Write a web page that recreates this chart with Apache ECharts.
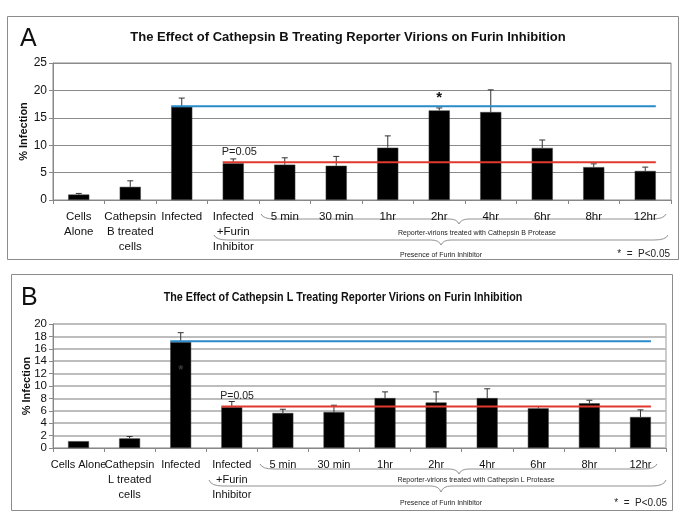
<!DOCTYPE html>
<html><head><meta charset="utf-8">
<script src="https://cdn.jsdelivr.net/npm/echarts@6/dist/echarts.min.js"></script>
<style>html,body{margin:0;padding:0;background:#fff}#c{width:685px;height:530px}</style>
</head><body><div id="c"></div>
<script>
// ---------- data ----------
const categoriesA = ['Cells\nAlone','Cathepsin\nB treated\ncells','Infected','Infected\n+Furin\nInhibitor','5 min','30 min','1hr','2hr','4hr','6hr','8hr','12hr'];
const categoriesB = ['Cells Alone','Cathepsin\nL treated\ncells','Infected','Infected\n+Furin\nInhibitor','5 min','30 min','1hr','2hr','4hr','6hr','8hr','12hr'];
const valuesA   = [1.0, 2.4, 17.0, 6.7, 6.45, 6.25, 9.55, 16.35, 16.05, 9.5, 6.0, 5.3];
const errorTopA = [1.2, 3.5, 18.6, 7.5, 7.7, 7.95, 11.7, 16.8, 20.1, 10.95, 6.6, 6.0];
const valuesB   = [1.1, 1.55, 17.1, 6.6, 5.65, 5.8, 8.05, 7.35, 8.05, 6.4, 7.2, 5.0];
const errorTopB = [1.1, 1.85, 18.6, 7.5, 6.25, 6.9, 9.05, 9.05, 9.55, 6.7, 7.7, 6.15];
const markA = ['','','','','','','','*','','','',''];
const markB = ['','','*','','','','','','','','',''];
const yTicksA = [0, 5, 10, 15, 20, 25];
const yTicksB = [0, 2, 4, 6, 8, 10, 12, 14, 16, 18, 20];
// reference lines: [first category index, last category index, value, label]
const refLinesA = [[2, 11, 17.1, ''], [3, 11, 6.9, 'P=0.05']];
const refLinesB = [[2, 11, 17.2, ''], [3, 11, 6.7, 'P=0.05']];
const titleA = 'The Effect of Cathepsin B Treating Reporter Virions on Furin Inhibition';
const titleB = 'The Effect of Cathepsin L Treating Reporter Virions on Furin Inhibition';
const braceTextA = 'Reporter-virions treated with Cathepsin B Protease';
const braceTextB = 'Reporter-virions treated with Cathepsin L Protease';
const furinText = 'Presence of Furin Inhibitor';
const sigText = '*  =  P<0.05';
const yName = '% Infection';

// ---------- styling ----------
const BAR_FRAC = 0.41;
const FONT = 'Liberation Sans, Arial, sans-serif';
const NARROW = 'Liberation Sans Narrow, Arial Narrow, Liberation Sans, sans-serif';
const RED = '#e2392f', BLUE = '#2d8ac8';

const chart = echarts.init(document.getElementById('c'), null, {renderer: 'canvas'});

function errRender(marks, markInside) {
  return function (params, api) {
    const i = api.value(0), v = api.value(1), t = api.value(2);
    const p0 = api.coord([i, v]), p1 = api.coord([i, t]);
    const ch = [];
    if (t > v) {
      ch.push({type: 'line', shape: {x1: p0[0], y1: p0[1], x2: p1[0], y2: p1[1]}, style: {stroke: '#333', lineWidth: 1}});
      ch.push({type: 'line', shape: {x1: p1[0] - 3, y1: p1[1], x2: p1[0] + 3, y2: p1[1]}, style: {stroke: '#333', lineWidth: 1}});
    }
    const m = marks[i];
    if (m) {
      if (markInside) {
        const base = api.coord([i, 0]);
        ch.push({type: 'text', style: {text: m, x: p0[0], y: p0[1] + (base[1] - p0[1]) * 0.27, align: 'center', verticalAlign: 'middle', font: 'bold 13px ' + FONT, fill: '#3a3a3a'}});
      } else {
        ch.push({type: 'text', style: {text: m, x: p1[0], y: p1[1] - 3, align: 'center', verticalAlign: 'bottom', font: 'bold 15px ' + FONT, fill: '#111'}});
      }
    }
    return {type: 'group', children: ch};
  };
}
function refRender(lines, colors, font) {
  return function (params, api) {
    const s = api.value(0), e = api.value(1), y = api.value(2);
    const bw = api.size([1, 0])[0];
    const c0 = api.coord([s, y]), c1 = api.coord([e, y]);
    const x1 = c0[0] - bw * BAR_FRAC / 2, x2 = c1[0] + bw * BAR_FRAC / 2;
    const ch = [{type: 'line', shape: {x1: x1, y1: c0[1], x2: x2, y2: c0[1]}, style: {stroke: colors[params.dataIndex], lineWidth: 2}}];
    const lbl = lines[params.dataIndex][3];
    if (lbl) ch.push({type: 'text', style: {text: lbl, x: x1 - 1, y: c0[1] - 5, align: 'left', verticalAlign: 'bottom', font: font, fill: '#222'}});
    return {type: 'group', children: ch};
  };
}
// curly brace (opening downward) drawn as bezier pieces
function brace(xl, yl, xr, yr, yline, xm, ym) {
  const st = {fill: 'none', stroke: '#777', lineWidth: 0.8};
  return {type: 'group', silent: true, children: [
    {type: 'bezierCurve', shape: {x1: xl, y1: yl, cpx1: xl + 2, cpy1: yline, x2: xl + 14, y2: yline}, style: st},
    {type: 'line', shape: {x1: xl + 14, y1: yline, x2: xm - 10, y2: yline}, style: st},
    {type: 'bezierCurve', shape: {x1: xm - 10, y1: yline, cpx1: xm - 2, cpy1: yline, x2: xm, y2: ym}, style: st},
    {type: 'bezierCurve', shape: {x1: xm, y1: ym, cpx1: xm + 2, cpy1: yline, x2: xm + 10, y2: yline}, style: st},
    {type: 'line', shape: {x1: xm + 10, y1: yline, x2: xr - 14, y2: yline}, style: st},
    {type: 'bezierCurve', shape: {x1: xr - 14, y1: yline, cpx1: xr - 2, cpy1: yline, x2: xr, y2: yr}, style: st}
  ]};
}

function xAxis(gi, cats, font, size, lh) {
  return {type: 'category', gridIndex: gi, data: cats, boundaryGap: true,
    axisLine: {lineStyle: {color: '#888'}}, axisTick: {show: true, length: 4, lineStyle: {color: '#888'}},
    axisLabel: {interval: 0, color: '#111', fontSize: size, fontFamily: font, lineHeight: lh, margin: 9},
    splitLine: {show: false}};
}
function yAxis(gi, ticks, font, size, gridColor, gridW, gap) {
  const iv = ticks[1] - ticks[0];
  return {type: 'value', gridIndex: gi, min: ticks[0], max: ticks[ticks.length - 1], interval: iv,
    name: yName, nameLocation: 'middle', nameGap: gap, nameMoveOverlap: false,
    nameTextStyle: {fontFamily: FONT, fontWeight: 'bold', fontSize: 11, color: '#111'},
    axisLine: {show: true, lineStyle: {color: '#888'}}, axisTick: {show: true, length: 4, lineStyle: {color: '#888'}},
    axisLabel: {color: '#111', fontSize: size, fontFamily: font, margin: 6},
    splitLine: {lineStyle: {color: gridColor, width: gridW}}};
}

const option = {
  animation: false,
  backgroundColor: '#fff',
  title: [
    {text: titleA, left: 343, top: 26, textAlign: 'center', textStyle: {fontFamily: FONT, fontSize: 13, fontWeight: 'bold', color: '#111'}}
  ],
  grid: [
    {left: 53, top: 63, width: 618, height: 137, show: true, borderColor: '#888', borderWidth: 1},
    {left: 53, top: 324, width: 613, height: 124, show: true, borderColor: '#999', borderWidth: 1}
  ],
  xAxis: [xAxis(0, categoriesA, FONT, 11.5, 15), xAxis(1, categoriesB, NARROW, 11, 15)],
  yAxis: [yAxis(0, yTicksA, FONT, 12, '#8a8a8a', 1, 24), yAxis(1, yTicksB, NARROW, 11.5, '#bdbdbd', 2, 21)],
  series: [
    {type: 'bar', xAxisIndex: 0, yAxisIndex: 0, data: valuesA, barWidth: (BAR_FRAC * 100) + '%', itemStyle: {color: '#000', borderColor: '#444', borderWidth: 0.5}, z: 2},
    {type: 'custom', xAxisIndex: 0, yAxisIndex: 0, data: valuesA.map((v, i) => [i, v, errorTopA[i]]), encode: {x: 0, y: [1, 2]}, renderItem: errRender(markA, false), z: 3},
    {type: 'custom', xAxisIndex: 0, yAxisIndex: 0, data: refLinesA.map(r => [r[0], r[1], r[2]]), encode: {x: [0, 1], y: 2}, renderItem: refRender(refLinesA, [BLUE, RED], '11px ' + FONT), z: 4},
    {type: 'bar', xAxisIndex: 1, yAxisIndex: 1, data: valuesB, barWidth: (BAR_FRAC * 100) + '%', itemStyle: {color: '#000', borderColor: '#444', borderWidth: 0.5}, z: 2},
    {type: 'custom', xAxisIndex: 1, yAxisIndex: 1, data: valuesB.map((v, i) => [i, v, errorTopB[i]]), encode: {x: 0, y: [1, 2]}, renderItem: errRender(markB, true), z: 3},
    {type: 'custom', xAxisIndex: 1, yAxisIndex: 1, data: refLinesB.map(r => [r[0], r[1], r[2]]), encode: {x: [0, 1], y: 2}, renderItem: refRender(refLinesB, [BLUE, RED], '10.5px ' + NARROW), z: 4}
  ],
  graphic: [
    {type: 'rect', shape: {x: 7.5, y: 16.5, width: 671, height: 243}, style: {fill: 'none', stroke: '#8c8c8c', lineWidth: 1}, z: -1},
    {type: 'rect', shape: {x: 11.5, y: 274.5, width: 661, height: 236}, style: {fill: 'none', stroke: '#8c8c8c', lineWidth: 1}, z: -1},
    {type: 'text', x: 20, y: 27, style: {text: 'A', font: '25px ' + FONT, fill: '#111'}},
    {type: 'text', x: 21, y: 286, style: {text: 'B', font: '25px ' + FONT, fill: '#111'}},
    {type: 'text', x: 343, y: 298, scaleX: 0.86, originX: 0, originY: 0, style: {text: titleB, x: 0, y: 0, font: 'bold 12.5px ' + FONT, fill: '#111', align: 'center', verticalAlign: 'middle'}},
    brace(261, 214, 666, 214, 219, 459, 224),
    {type: 'text', x: 477, y: 233, style: {text: braceTextA, font: '7px ' + FONT, fill: '#222', align: 'center', verticalAlign: 'middle'}},
    brace(214, 235, 668, 235, 240, 441, 245),
    {type: 'text', x: 441, y: 255, style: {text: furinText, font: '7px ' + FONT, fill: '#222', align: 'center', verticalAlign: 'middle'}},
    {type: 'text', x: 670, y: 254, style: {text: sigText, font: '10px ' + FONT, fill: '#222', align: 'right', verticalAlign: 'middle'}},
    brace(260, 464, 657, 464, 469, 459, 474),
    {type: 'text', x: 476, y: 480, style: {text: braceTextB, font: '7px ' + FONT, fill: '#222', align: 'center', verticalAlign: 'middle'}},
    brace(209, 480, 666, 480, 486, 441, 492),
    {type: 'text', x: 441, y: 503, style: {text: furinText, font: '7px ' + FONT, fill: '#222', align: 'center', verticalAlign: 'middle'}},
    {type: 'text', x: 667, y: 503, style: {text: sigText, font: '10px ' + FONT, fill: '#222', align: 'right', verticalAlign: 'middle'}}
  ]
};
chart.setOption(option);
</script>
</body></html>
